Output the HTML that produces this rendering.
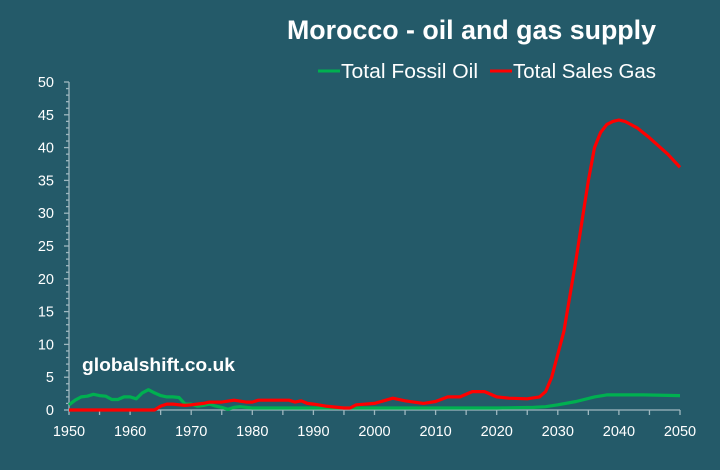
<!DOCTYPE html>
<html><head><meta charset="utf-8"><style>
html,body{margin:0;padding:0;background:#245a69;}
svg{display:block;font-family:"Liberation Sans",sans-serif;}
</style></head><body>
<svg id="s" width="720" height="470" xmlns="http://www.w3.org/2000/svg">
<rect width="720" height="470" fill="#245a69"/>
<text x="656" y="39" text-anchor="end" fill="#fff" font-size="27" font-weight="bold" textLength="369" lengthAdjust="spacingAndGlyphs">Morocco - oil and gas supply</text>
<line x1="318" y1="71" x2="340" y2="71" stroke="#00b050" stroke-width="3"/>
<text x="341" y="78" fill="#fff" font-size="20" textLength="137" lengthAdjust="spacingAndGlyphs">Total Fossil Oil</text>
<line x1="490" y1="71" x2="512" y2="71" stroke="#ff0000" stroke-width="3"/>
<text x="513" y="78" fill="#fff" font-size="20" textLength="143" lengthAdjust="spacingAndGlyphs">Total Sales Gas</text>
<text x="82" y="371" fill="#fff" font-size="18" font-weight="bold" textLength="153" lengthAdjust="spacingAndGlyphs">globalshift.co.uk</text>
<g id="ax" stroke="#9fb8c0" stroke-width="1.3"></g>
<g id="lab" fill="#fff" font-size="14.5"></g>
<polyline id="oil" fill="none" stroke="#00b050" stroke-width="3.2" stroke-linejoin="round"/>
<polyline id="gas" fill="none" stroke="#ff0000" stroke-width="3.2" stroke-linejoin="round"/>
</svg>
<script>
var X=function(y){return 69+(y-1950)*6.11},Y=function(v){return 410-v*6.56};
var ax=document.getElementById('ax'),lab=document.getElementById('lab'),h='',l='';
h+='<line x1="69" y1="82" x2="69" y2="410"/><line x1="69" y1="410" x2="680" y2="410"/>';
for(var v=0;v<=50;v++){var w=v%5==0?5:3;h+='<line x1="'+(69-w)+'" y1="'+Y(v)+'" x2="69" y2="'+Y(v)+'"/>';}
for(var v=0;v<=50;v+=5)l+='<text x="54" y="'+(Y(v)+5)+'" text-anchor="end">'+v+'</text>';
for(var y=1950;y<=2050;y+=5){h+='<line x1="'+X(y)+'" y1="410" x2="'+X(y)+'" y2="415"/>';}
for(var y=1950;y<=2050;y+=10)l+='<text x="'+X(y)+'" y="436" text-anchor="middle">'+y+'</text>';
ax.innerHTML=h;lab.innerHTML=l;
var oil=[[1950,0.8],[1951,1.5],[1952,2],[1953,2.1],[1954,2.4],[1955,2.2],[1956,2.1],[1957,1.6],[1958,1.6],[1959,2],[1960,2],[1961,1.7],[1962,2.6],[1963,3.1],[1964,2.6],[1965,2.2],[1966,2],[1967,2],[1968,1.9],[1969,0.9],[1970,0.9],[1971,0.6],[1972,0.7],[1973,0.9],[1974,0.6],[1975,0.4],[1976,0.1],[1977,0.4],[1978,0.5],[1980,0.3],[1990,0.3],[2000,0.3],[2010,0.3],[2020,0.3],[2026,0.4],[2028,0.5],[2030,0.8],[2033,1.3],[2036,2],[2038,2.3],[2044,2.3],[2050,2.2]];
var gas=[[1950,0],[1964,0],[1965,0.6],[1966,0.9],[1967,0.9],[1968,0.8],[1969,0.7],[1970,0.8],[1972,1],[1973,1.2],[1975,1.2],[1977,1.5],[1979,1.2],[1980,1.2],[1981,1.5],[1986,1.5],[1987,1.2],[1988,1.4],[1989,1],[1990,0.9],[1992,0.6],[1995,0.3],[1996,0.3],[1997,0.8],[2000,1],[2003,1.8],[2005,1.4],[2008,1],[2010,1.3],[2012,2],[2014,2],[2016,2.8],[2018,2.8],[2020,2],[2022,1.8],[2025,1.7],[2027,2.0],[2028,2.8],[2029,5],[2031,12],[2033,23],[2034,29],[2035,35],[2036,40],[2037,42.3],[2038,43.5],[2039,44],[2040,44.2],[2041,44],[2043,43],[2045,41.5],[2048,39],[2050,37]];
function p(a){return a.map(function(d){return X(d[0]).toFixed(1)+','+Y(d[1]).toFixed(1)}).join(' ')}
document.getElementById('oil').setAttribute('points',p(oil));
document.getElementById('gas').setAttribute('points',p(gas));
</script>
</body></html>
